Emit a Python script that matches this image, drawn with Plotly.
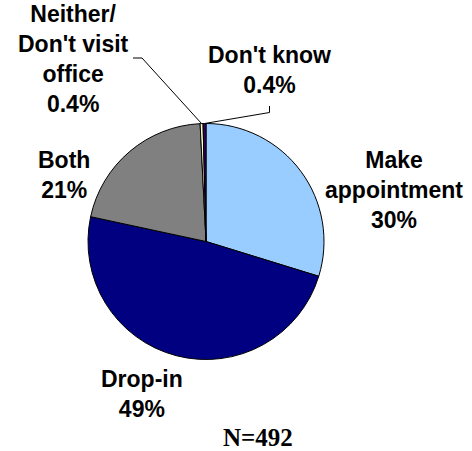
import math
import plotly.graph_objects as go

# Survey responses: how people visit the office
categories = ["Make<br>appointment", "Drop-in", "Both", "Neither/<br>Don't visit<br>office", "Don't know"]
shares = [30, 49, 21, 0.4, 0.4]
colors = ["#99CCFF", "#000080", "#808080", "#FFFFCC", "#330066"]
sample_note = "N=492"

W, H = 472, 451
CX, CY, R = 206, 241.5, 118  # pie centre and radius in pixels


def px(x):
    return x / W


def py(y):
    return 1 - y / H


fig = go.Figure(
    go.Pie(
        values=shares,
        labels=[c.replace("<br>", " ") for c in categories],
        marker=dict(colors=colors, line=dict(color="#000000", width=1)),
        sort=False,
        direction="clockwise",
        rotation=0,
        textinfo="none",
        hoverinfo="skip",
        showlegend=False,
        domain=dict(x=[px(CX - R), px(CX + R)], y=[py(CY + R), py(CY - R)]),
    )
)

# label block centres (pixels)
label_pos = [(394, 190), (142, 394), (64, 175), (73, 59), (269, 70)]

label_font = dict(family="Liberation Sans, Arial, sans-serif", size=23, color="#000000", weight="bold")
for cat, val, (lx, ly) in zip(categories, shares, label_pos):
    fig.add_annotation(
        text=f"{cat}<br>{val:g}%",
        x=px(lx), y=py(ly), xref="paper", yref="paper",
        xanchor="center", yanchor="middle", showarrow=False,
        align="center", font=label_font,
    )

# leader lines for the two thin slices, ending at each slice's mid-angle on the rim
total = sum(shares)
cum = 0
mids = []
for v in shares:
    mids.append((cum + v / 2) / total * 2 * math.pi)
    cum += v


def rim(angle):
    return CX + R * math.sin(angle), CY - R * math.cos(angle)


leaders = {3: [(133, 58), (142, 58)], 4: [(269.5, 106), (269.5, 112.5)]}
for idx, pts in leaders.items():
    ax, ay = rim(mids[idx])
    pts = pts + [(ax, ay)]
    path = "M " + " L ".join(f"{px(x)},{py(y)}" for x, y in pts)
    fig.add_shape(type="path", path=path, xref="paper", yref="paper",
                  line=dict(color="#000000", width=1))

fig.add_annotation(
    text=sample_note, x=px(258), y=py(437), xref="paper", yref="paper",
    xanchor="center", yanchor="middle", showarrow=False,
    font=dict(family="Liberation Serif, Times New Roman, serif", size=25, color="#000000", weight="bold"),
)

fig.update_layout(
    width=W, height=H,
    margin=dict(l=0, r=0, t=0, b=0),
    paper_bgcolor="#FFFFFF", plot_bgcolor="#FFFFFF",
)

fig.write_html("out.html")
